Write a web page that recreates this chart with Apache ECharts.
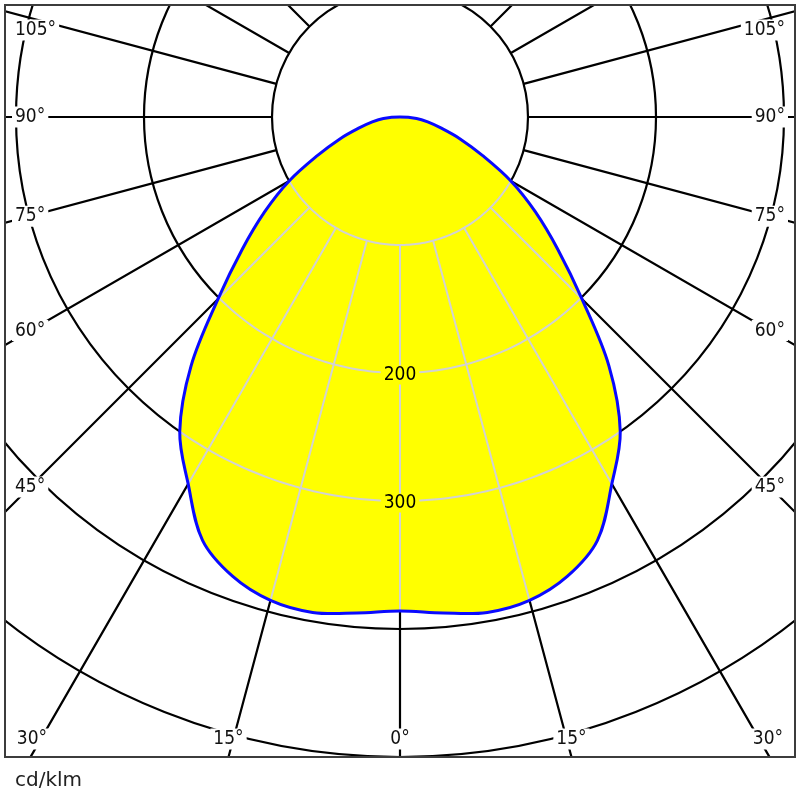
<!DOCTYPE html>
<html>
<head>
<meta charset="utf-8">
<script src="https://cdn.jsdelivr.net/npm/echarts@6/dist/echarts.min.js"></script>
<style>
html,body{margin:0;padding:0;background:#fff;}
#chart{width:800px;height:800px;}
</style>
</head>
<body>
<div id="chart"></div>
<script>
// polar light distribution, C0/C180 plane (symmetric), cd/klm
var angles = [0, 5, 10, 15, 20, 25, 30, 35, 40, 45, 50, 55, 60, 65, 70, 75, 80, 85, 90];
var intensity = [386, 389, 393, 391, 382, 365, 331, 300, 254, 201, 161, 129, 100, 71, 50, 33, 22, 13, 0];
var radiusTicks = [100, 200, 300, 400, 500, 600];
var radiusLabels = [200, 300];
var angleLabels = [0, 15, 30, 45, 60, 75, 90, 105];
var unitText = 'cd/klm';

var cx = 400, cy = 117;
var frame = {l: 5, t: 5, r: 795, b: 757};
var font = '19px "DejaVu Sans Condensed", "DejaVu Sans", sans-serif';

// full outline: left half then mirrored right half
var curve = [];
for (var i = 0; i < angles.length; i++) {
    curve.push([intensity[i], angles[i]]);
}
for (var j = angles.length - 2; j > 0; j--) {
    curve.push([intensity[j], 360 - angles[j]]);
}

function crossAngle(R) {
    for (var k = 0; k < angles.length - 1; k++) {
        if (intensity[k] >= R && intensity[k + 1] < R) {
            return angles[k] + (intensity[k] - R) / (intensity[k] - intensity[k + 1]) * (angles[k + 1] - angles[k]);
        }
    }
    return null;
}

function renderCurve(params, api) {
    if (params.dataIndex !== 0) return null;
    var pts = [];
    for (var k = 0; k < params.dataInsideLength; k++) {
        var p = api.coord([api.value(0, k), api.value(1, k)]);
        pts.push([p[0], p[1]]);
    }
    var children = [];
    children.push({type: 'polygon', shape: {points: pts, smooth: 0.35}, style: {fill: '#ffff00', stroke: 'none'}});

    var grey = {stroke: '#d2d2d2', lineWidth: 2, fill: 'none'};
    var inner = radiusTicks[0];
    // rays inside the curve
    for (var k = 0; k < angles.length; k++) {
        if (angles[k] % 15 !== 0 || intensity[k] <= inner) continue;
        var sides = angles[k] === 0 ? [0] : [angles[k], 360 - angles[k]];
        sides.forEach(function (a) {
            var p1 = api.coord([inner, a]);
            var p2 = api.coord([intensity[k], a]);
            children.push({type: 'line', shape: {x1: p1[0], y1: p1[1], x2: p2[0], y2: p2[1]}, style: grey});
        });
    }
    // circle arcs inside the curve
    radiusTicks.forEach(function (R) {
        var alpha = crossAngle(R);
        if (alpha === null) return;
        var arc = [];
        for (var t = -alpha; t < alpha; t += 1) {
            var p = api.coord([R, t < 0 ? 360 + t : t]);
            arc.push([p[0], p[1]]);
        }
        var pe = api.coord([R, alpha]);
        arc.push([pe[0], pe[1]]);
        children.push({type: 'polyline', shape: {points: arc}, style: grey});
    });
    // radius labels on the 0 deg ray
    radiusLabels.forEach(function (v) {
        var p = api.coord([v, 0]);
        children.push({
            type: 'text', x: p[0], y: p[1] + 2,
            style: {text: String(v), font: font, fill: '#000', align: 'center', verticalAlign: 'middle',
                backgroundColor: '#ffff00', padding: [0, 3]}
        });
    });
    children.push({type: 'polygon', shape: {points: pts, smooth: 0.35},
        style: {fill: 'none', stroke: '#0a0aff', lineWidth: 3, lineJoin: 'round'}});
    return {type: 'group', children: children};
}

// angle labels placed where each ray leaves the frame
function angleLabelItems() {
    var items = [];
    angleLabels.forEach(function (a) {
        var sides = a === 0 ? [0] : [-1, 1];
        sides.forEach(function (s) {
            var rad = a * Math.PI / 180;
            var dx = s * Math.sin(rad), dy = Math.cos(rad);
            var txt = a + '°';
            var xb = dy > 0 ? cx + dx * (frame.b - cy) / dy : null;
            if (xb !== null && xb > frame.l && xb < frame.r) {
                var x = Math.min(Math.max(xb, 32), 768);
                items.push({type: 'text', x: x, y: 739, z: 101,
                    style: {text: txt, font: font, fill: '#111', align: 'center', verticalAlign: 'middle',
                        backgroundColor: '#fff', padding: [1, 3]}});
            } else {
                var xe = s < 0 ? 30 : 770;
                var y = cy + dy * Math.abs(xe - cx) / Math.abs(dx);
                y = Math.min(Math.max(y, 30), 738);
                items.push({type: 'text', x: s < 0 ? 12 : 788, y: y, z: 101,
                    style: {text: txt, font: font, fill: '#111', align: s < 0 ? 'left' : 'right', verticalAlign: 'middle',
                        backgroundColor: '#fff', padding: [1, 3]}});
            }
        });
    });
    return items;
}

var myChart = echarts.init(document.getElementById('chart'));
var graphics = [
    {type: 'rect', z: 100, shape: {x: 0, y: 0, width: 800, height: frame.t}, style: {fill: '#fff'}},
    {type: 'rect', z: 100, shape: {x: 0, y: 0, width: frame.l, height: 800}, style: {fill: '#fff'}},
    {type: 'rect', z: 100, shape: {x: frame.r, y: 0, width: 800 - frame.r, height: 800}, style: {fill: '#fff'}},
    {type: 'rect', z: 100, shape: {x: 0, y: frame.b, width: 800, height: 800 - frame.b}, style: {fill: '#fff'}},
    {type: 'rect', z: 102, shape: {x: frame.l, y: frame.t, width: frame.r - frame.l, height: frame.b - frame.t},
        style: {fill: 'none', stroke: '#3c3c3c', lineWidth: 2}},
    {type: 'text', z: 102, x: 15, y: 781,
        style: {text: unitText, font: '20px "DejaVu Sans", sans-serif', fill: '#222', verticalAlign: 'middle'}}
].concat(angleLabelItems());

var option = {
    animation: false,
    backgroundColor: '#fff',
    // 100 cd/klm = 128 px, outer ring (600) lies fully outside the frame
    polar: {center: [cx, cy], radius: [128, 768]},
    radiusAxis: {
        type: 'value', min: 100, max: 600, interval: 100,
        axisLine: {show: false}, axisTick: {show: false}, axisLabel: {show: false},
        splitLine: {show: true, lineStyle: {color: '#000', width: 2.2}}
    },
    angleAxis: {
        type: 'value', min: 0, max: 360, interval: 15, startAngle: 270, clockwise: true,
        axisLine: {show: false},
        axisTick: {show: false}, axisLabel: {show: false},
        splitLine: {show: true, lineStyle: {color: '#000', width: 2.2}}
    },
    series: [{
        type: 'custom',
        coordinateSystem: 'polar',
        silent: true,
        data: curve,
        renderItem: renderCurve
    }],
    graphic: graphics
};
myChart.setOption(option);
</script>
</body>
</html>
